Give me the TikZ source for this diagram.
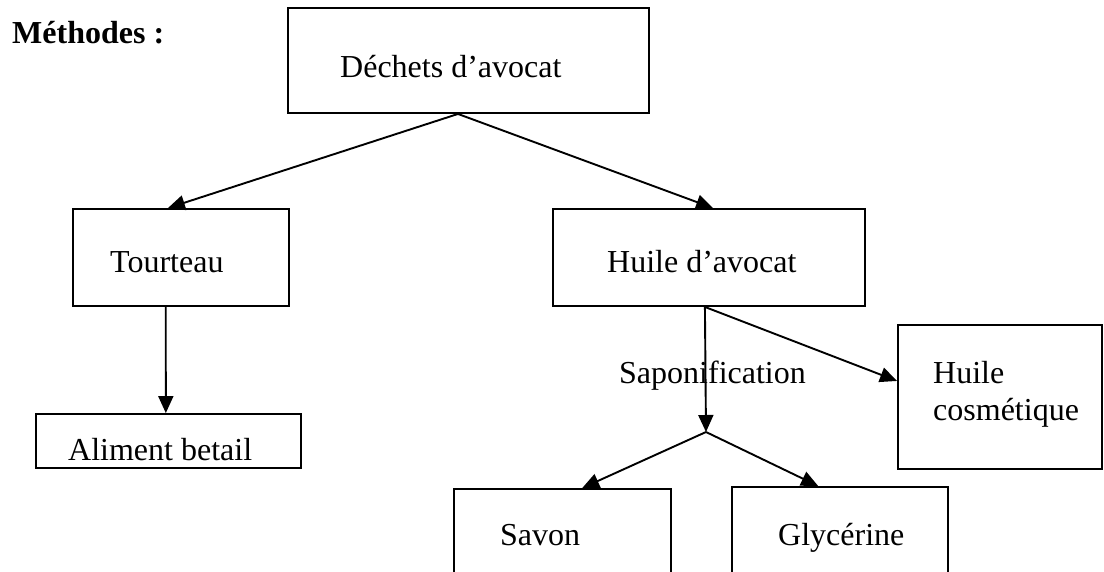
\documentclass[tikz,border=0pt]{standalone}
\usepackage{fontspec}
\setmainfont{Liberation Serif}
\usetikzlibrary{arrows.meta,calc}
\begin{document}
\begin{tikzpicture}[x=1pt,y=-1pt,
  box/.style={draw,line width=1.9pt,rectangle,inner sep=0pt},
  txt/.style={anchor=base west,inner sep=0pt,font=\fontsize{32}{37}\selectfont},
  arr/.style={line width=1.9pt,-{Triangle[length=17pt,width=15pt]}}]
\useasboundingbox (0,0) rectangle (1104,571);
\clip (0,0) rectangle (1104,571);
% title
\node[txt,font=\fontsize{32}{37}\selectfont\bfseries] (title) at (12,43) {Méthodes :};
% boxes
\node[box,minimum width=361pt,minimum height=105pt] (dechets) at (468.5,60.5) {};
\node[box,minimum width=216pt,minimum height=97pt] (tourteau) at (181,257.5) {};
\node[box,minimum width=312pt,minimum height=97pt] (huile) at (709,257.5) {};
\node[box,minimum width=265pt,minimum height=54pt] (aliment) at (168.5,441) {};
\node[box,minimum width=204pt,minimum height=144pt] (cosm) at (1000,397) {};
\node[box,minimum width=217pt,minimum height=111pt] (savon) at (562.5,544.5) {};
\node[box,minimum width=216pt,minimum height=113pt] (glyc) at (840,543.5) {};
% texts
\node[txt] (tdechets) at (340,77) {Déchets d’avocat};
\node[txt] (ttourteau) at (110,272) {Tourteau};
\node[txt] (thuile) at (607,272) {Huile d’avocat};
\node[txt] (taliment) at (68,460) {Aliment betail};
\node[txt] (tsapo) at (619,383) {Saponification};
\node[txt] (tcosm1) at (933,383) {Huile};
\node[txt] (tcosm2) at (933,420) {cosmétique};
\node[txt] (tsavon) at (500,545) {Savon};
\node[txt] (tglyc) at (778,545) {Glycérine};
% connectors
\coordinate (split) at (706,432);
\draw[arr] ($(dechets.south west)!0.471!(dechets.south east)$) -- ($(tourteau.north west)!0.44!(tourteau.north east)$);
\draw[arr] ($(dechets.south west)!0.471!(dechets.south east)$) -- ($(huile.north west)!0.513!(huile.north east)$);
\draw[arr] ($(tourteau.south west)!0.43!(tourteau.south east)$) -- ($(aliment.north west)!0.49!(aliment.north east)$);
\draw[arr] ($(huile.south west)!0.487!(huile.south east)$) -- (split);
\draw[arr] ($(huile.south west)!0.487!(huile.south east)$) -- ($(cosm.north west)!0.39!(cosm.south west)$);
\draw[arr] (split) -- ($(savon.north west)!0.59!(savon.north east)$);
\draw[arr] (split) -- ($(glyc.north west)!0.40!(glyc.north east)$);
\end{tikzpicture}
\end{document}
